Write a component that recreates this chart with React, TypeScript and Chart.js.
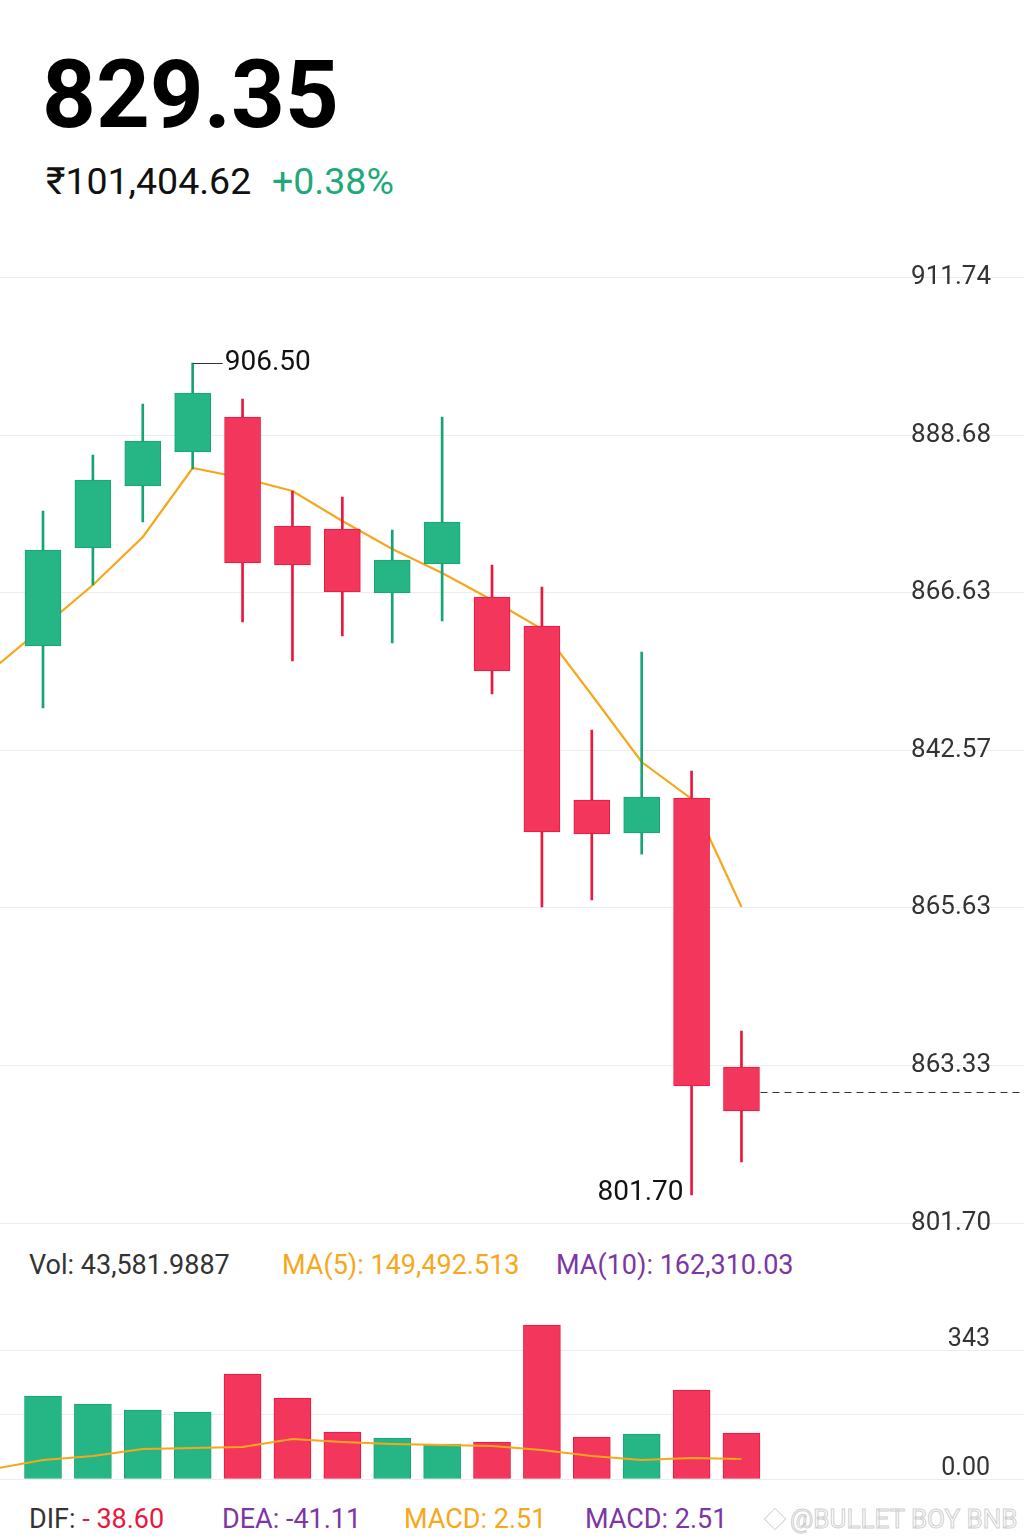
import React, { useEffect, useRef } from 'react';
import { Chart, registerables } from 'chart.js';

Chart.register(...registerables);

// ---------- data ----------
const CANDLE_INDEX = [0, 1, 2, 3, 4, 5, 6, 7, 8, 9, 10, 11, 12, 13, 14];
const OPEN = [868.85, 880.26, 887.47, 891.43, 895.5, 882.82, 882.47, 875.02, 878.4, 874.56, 871.18, 850.93, 847.09, 851.16, 819.86];
const CLOSE = [880.03, 888.17, 892.71, 898.3, 878.51, 878.28, 875.14, 878.86, 883.28, 865.94, 847.21, 846.97, 851.28, 817.64, 814.74];
const HIGH = [884.56, 891.08, 897.02, 901.79, 897.6, 886.89, 886.19, 882.35, 895.5, 878.28, 875.72, 859.08, 868.15, 854.31, 824.05];
const LOW = [861.64, 875.95, 883.28, 889.45, 871.65, 867.11, 870.02, 869.2, 871.76, 863.27, 838.48, 839.29, 844.64, 804.96, 808.8];

const MA_INDEX = [-1, 0, 1, 2, 3, 4, 5, 6, 7, 8, 9, 10, 11, 12, 13, 14];
const MA_VALUES = [866.18, 871.06, 875.95, 881.54, 889.57, 888.41, 886.89, 883.4, 880.14, 877.35, 874.21, 870.83, 863.15, 855.35, 851.05, 838.48];

const VOLUME = [220.7, 199.4, 183.5, 178.1, 279.2, 215.4, 125.0, 109.0, 93.1, 98.4, 409.5, 111.7, 119.7, 236.6, 122.3];
const VOL_MA = [26.6, 50.5, 61.2, 79.8, 82.4, 85.1, 106.4, 98.4, 93.1, 90.4, 87.7, 77.1, 61.2, 50.5, 55.8, 53.2];

const LAST_PRICE = 816.94;
const HIGH_LABEL = '906.50';
const LOW_LABEL = '801.70';

const PRICE_TICKS = [801.7, 820.04, 838.38, 856.72, 875.06, 893.4, 911.74];
const PRICE_TICK_LABELS = ['801.70', '863.33', '865.63', '842.57', '866.63', '888.68', '911.74'];
const PRICE_MIN = 801.7;
const PRICE_MAX = 911.74;

const VOL_TICKS = [0, 171.5, 343];
const VOL_TICK_LABELS = ['0.00', '', '343'];
const VOL_MIN = 0;
const VOL_MAX = 430;

const X_MIN = -0.862;
const X_MAX = 19.663;

// ---------- styles ----------
const GREEN = '#26b686';
const GREEN_EDGE = '#16a472';
const RED = '#f3365c';
const RED_EDGE = '#e8183f';
const ORANGE = '#f7a71c';
const PURPLE = '#7d36a4';
const GRID = '#ececec';
const FONT = 'Roboto';

const isUp = CANDLE_INDEX.map((i) => CLOSE[i] >= OPEN[i]);
const fillColors = isUp.map((u) => (u ? GREEN : RED));
const edgeColors = isUp.map((u) => (u ? GREEN_EDGE : RED_EDGE));

const BODY_DATASET = 1;

const zeroFit = (s: any) => {
  s.width = 0;
  s.paddingTop = 0;
  s.paddingBottom = 0;
  s.paddingLeft = 0;
  s.paddingRight = 0;
};

const markPlugin = {
  id: 'markPlugin',
  afterDatasetsDraw(chart: any) {
    const { ctx, chartArea, scales } = chart;
    const xs = scales.x;
    const ys = scales.y;
    const hiIdx = HIGH.indexOf(Math.max(...HIGH));
    const loIdx = LOW.indexOf(Math.min(...LOW));
    ctx.save();
    const hx = xs.getPixelForValue(CANDLE_INDEX[hiIdx]);
    const hy = Math.round(ys.getPixelForValue(HIGH[hiIdx])) + 0.5;
    ctx.strokeStyle = '#333';
    ctx.lineWidth = 1;
    ctx.beginPath();
    ctx.moveTo(hx, hy);
    ctx.lineTo(hx + 30, hy);
    ctx.stroke();
    ctx.font = `28px ${FONT}`;
    ctx.fillStyle = '#111';
    ctx.textBaseline = 'middle';
    ctx.textAlign = 'left';
    ctx.fillText(HIGH_LABEL, hx + 32, hy - 1);
    const lx = xs.getPixelForValue(CANDLE_INDEX[loIdx]);
    const ly = ys.getPixelForValue(LOW[loIdx]);
    ctx.textAlign = 'right';
    ctx.fillText(LOW_LABEL, lx - 8, ly - 2);
    const meta = chart.getDatasetMeta(BODY_DATASET);
    const last = meta.data[meta.data.length - 1];
    const sx = last.x + last.width / 2 + 1;
    const py = Math.round(ys.getPixelForValue(LAST_PRICE)) + 0.5;
    ctx.setLineDash([7, 5]);
    ctx.strokeStyle = '#333';
    ctx.lineWidth = 1.2;
    ctx.beginPath();
    ctx.moveTo(sx, py);
    ctx.lineTo(chartArea.right, py);
    ctx.stroke();
    ctx.restore();
  },
};

function Txt(props: { left: number; top: number; size: number; color: string; weight?: number; children: any; extra?: any }) {
  const { left, top, size, color, weight = 400, children, extra } = props;
  return (
    <div
      style={{
        position: 'absolute',
        left,
        top,
        fontSize: size,
        lineHeight: `${size}px`,
        color,
        fontWeight: weight,
        whiteSpace: 'nowrap',
        fontFamily: FONT,
        ...(extra || {}),
      }}
    >
      {children}
    </div>
  );
}

export default function App() {
  const mainRef = useRef<HTMLCanvasElement>(null);
  const volRef = useRef<HTMLCanvasElement>(null);

  useEffect(() => {
    const main = new Chart(mainRef.current as HTMLCanvasElement, {
      type: 'bar',
      data: {
        datasets: [
          {
            type: 'bar',
            label: 'wick',
            data: CANDLE_INDEX.map((i) => ({ x: i, y: [LOW[i], HIGH[i]] })) as any,
            backgroundColor: edgeColors,
            borderWidth: 0,
            barThickness: 2,
            grouped: false,
            order: 2,
          },
          {
            type: 'bar',
            label: 'body',
            data: CANDLE_INDEX.map((i) => ({ x: i, y: [OPEN[i], CLOSE[i]] })) as any,
            backgroundColor: fillColors,
            borderColor: edgeColors,
            borderWidth: 1,
            borderSkipped: false,
            barThickness: 36,
            grouped: false,
            order: 1,
          },
          {
            type: 'line',
            label: 'MA',
            data: MA_INDEX.map((x, k) => ({ x, y: MA_VALUES[k] })) as any,
            borderColor: ORANGE,
            borderWidth: 2.2,
            pointRadius: 0,
            tension: 0,
            fill: false,
            order: 3,
          } as any,
        ],
      },
      options: {
        responsive: false,
        maintainAspectRatio: false,
        animation: false,
        events: [],
        layout: { padding: { top: 27.5, bottom: 17, left: 0, right: 0 } },
        plugins: { legend: { display: false }, tooltip: { enabled: false } },
        scales: {
          x: { type: 'linear', min: X_MIN, max: X_MAX, display: false, offset: false },
          y: {
            type: 'linear',
            position: 'right',
            min: PRICE_MIN,
            max: PRICE_MAX,
            afterBuildTicks: (s: any) => {
              s.ticks = PRICE_TICKS.map((v) => ({ value: v }));
            },
            afterFit: zeroFit,
            grid: { color: GRID, lineWidth: 1, drawTicks: false },
            border: { display: false },
            ticks: {
              mirror: true,
              padding: -33,
              autoSkip: false,
              color: '#333',
              font: { family: FONT, size: 26 },
              callback: (_v: any, i: number) => PRICE_TICK_LABELS[i],
            },
          } as any,
        },
      },
      plugins: [markPlugin],
    });

    const vol = new Chart(volRef.current as HTMLCanvasElement, {
      type: 'bar',
      data: {
        datasets: [
          {
            type: 'line',
            label: 'VolMA',
            data: MA_INDEX.map((x, k) => ({ x, y: VOL_MA[k] })) as any,
            borderColor: ORANGE,
            borderWidth: 2,
            pointRadius: 0,
            tension: 0,
            fill: false,
            order: 1,
          } as any,
          {
            type: 'bar',
            label: 'Vol',
            data: CANDLE_INDEX.map((i) => ({ x: i, y: VOLUME[i] })) as any,
            backgroundColor: fillColors,
            borderColor: edgeColors,
            borderWidth: 1,
            borderSkipped: false,
            barThickness: 37,
            grouped: false,
            order: 2,
          },
        ],
      },
      options: {
        responsive: false,
        maintainAspectRatio: false,
        animation: false,
        events: [],
        layout: { padding: { top: 17.28, bottom: 11, left: 0, right: 0 } },
        plugins: { legend: { display: false }, tooltip: { enabled: false } },
        scales: {
          x: { type: 'linear', min: X_MIN, max: X_MAX, display: false, offset: false },
          y: {
            type: 'linear',
            position: 'right',
            min: VOL_MIN,
            max: VOL_MAX,
            afterBuildTicks: (s: any) => {
              s.ticks = VOL_TICKS.map((v) => ({ value: v }));
            },
            afterFit: zeroFit,
            grid: { color: GRID, lineWidth: 1, drawTicks: false },
            border: { display: false },
            ticks: {
              mirror: true,
              padding: -34,
              autoSkip: false,
              labelOffset: -10,
              color: '#333',
              font: { family: FONT, size: 25 },
              callback: (_v: any, i: number) => VOL_TICK_LABELS[i],
            },
          } as any,
        },
      },
    });

    return () => {
      main.destroy();
      vol.destroy();
    };
  }, []);

  return (
    <div
      style={{
        position: 'absolute',
        left: 0,
        top: 0,
        width: 1024,
        height: 1536,
        background: '#ffffff',
        overflow: 'hidden',
        fontFamily: FONT,
      }}
    >
      <Txt left={42} top={48} size={94} color="#000" weight={700}>
        829.35
      </Txt>
      <Txt left={46} top={163} size={37.5} color="#111">
        ₹101,404.62
      </Txt>
      <Txt left={272} top={163} size={37.5} color="#1fa97a">
        +0.38%
      </Txt>

      <canvas
        ref={mainRef}
        width={1024}
        height={990}
        style={{ position: 'absolute', left: 0, top: 250, width: 1024, height: 990 }}
      />

      <Txt left={29} top={1252} size={27} color="#333">
        Vol: 43,581.9887
      </Txt>
      <Txt left={282} top={1252} size={27} color={ORANGE}>
        MA(5): 149,492.513
      </Txt>
      <Txt left={556} top={1252} size={27} color={PURPLE}>
        MA(10): 162,310.03
      </Txt>

      <canvas
        ref={volRef}
        width={1024}
        height={190}
        style={{ position: 'absolute', left: 0, top: 1300, width: 1024, height: 190 }}
      />

      <Txt left={29} top={1506} size={27} color="#333">
        DIF: <span style={{ color: '#e8183f' }}>- 38.60</span>
      </Txt>
      <Txt left={222} top={1506} size={27} color={PURPLE}>
        DEA: -41.11
      </Txt>
      <Txt left={404} top={1506} size={27} color={ORANGE}>
        MACD: 2.51
      </Txt>
      <Txt left={585} top={1506} size={27} color={PURPLE}>
        MACD: 2.51
      </Txt>
      <div
        style={{
          position: 'absolute',
          left: 767,
          top: 1511,
          width: 14,
          height: 14,
          border: '1.5px solid #d4d4d4',
          transform: 'rotate(45deg)',
        }}
      />
      <Txt
        left={790}
        top={1506}
        size={26}
        color="rgba(255,255,255,0)"
        extra={{ WebkitTextStroke: '1px #cfcfcf' }}
      >
        @BULLET BOY BNB
      </Txt>
    </div>
  );
}
